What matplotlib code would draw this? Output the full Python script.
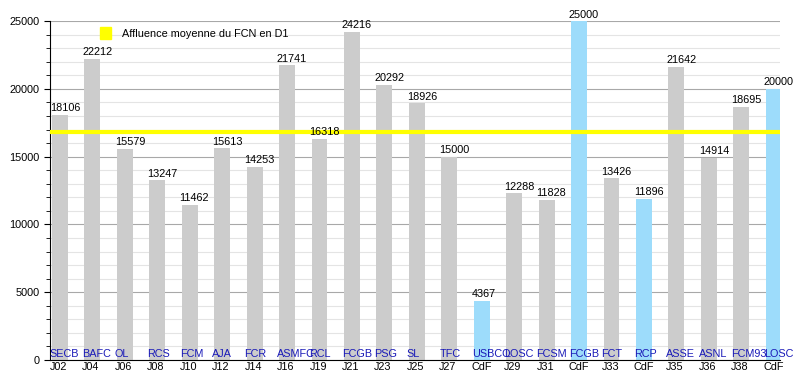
import matplotlib
matplotlib.use('Agg')
import matplotlib.pyplot as plt
from matplotlib.patches import Patch
from matplotlib.ticker import MultipleLocator

plt.rcParams['font.family'] = ['Liberation Sans', 'DejaVu Sans']

clubs = ['SECB', 'BAFC', 'OL', 'RCS', 'FCM', 'AJA', 'FCR', 'ASMFC', 'RCL', 'FCGB', 'PSG', 'SL',
         'TFC', 'USBCO', 'LOSC', 'FCSM', 'FCGB', 'FCT', 'RCP', 'ASSE', 'ASNL', 'FCM93', 'LOSC']
rounds = ['J02', 'J04', 'J06', 'J08', 'J10', 'J12', 'J14', 'J16', 'J19', 'J21', 'J23', 'J25',
          'J27', 'CdF', 'J29', 'J31', 'CdF', 'J33', 'CdF', 'J35', 'J36', 'J38', 'CdF']
crowd = [18106, 22212, 15579, 13247, 11462, 15613, 14253, 21741, 16318, 24216, 20292, 18926,
         15000, 4367, 12288, 11828, 25000, 13426, 11896, 21642, 14914, 18695, 20000]
moyenne_d1 = 16800

fig = plt.figure(figsize=(8, 3.8), dpi=100)
ax = fig.add_axes([0.0625, 0.0526, 0.9125, 0.892])

cols = ['#9ddcfb' if r == 'CdF' else '#cccccc' for r in rounds]
xs = list(range(len(crowd)))
ax.bar(xs, crowd, width=0.49, align='edge', color=cols, zorder=2)

ax.axhline(moyenne_d1, color='#ffff00', lw=3, zorder=3)

for x, v, c, r in zip(xs, crowd, clubs, rounds):
    ax.annotate(str(v), (x, v), xytext=(-1.5, 1), textcoords='offset points',
                ha='left', va='bottom', fontsize=7.8, zorder=4)
    ax.annotate(c, (x, 0), xytext=(-1.5, 0.5), textcoords='offset points',
                ha='left', va='bottom', fontsize=7.8, color='#1a1ab8', zorder=4)
    ax.annotate(r, (x, 0), xytext=(-1.5, -1.5), textcoords='offset points',
                ha='left', va='top', fontsize=7.8, annotation_clip=False)

ax.set_xlim(-0.06, 22.44)
ax.set_ylim(0, 25000)
ax.yaxis.set_major_locator(MultipleLocator(5000))
ax.yaxis.set_minor_locator(MultipleLocator(1000))
ax.grid(which='major', axis='y', color='#a8a8a8', lw=0.8, zorder=0)
ax.grid(which='minor', axis='y', color='#e4e4e4', lw=0.8, zorder=0)
ax.set_xticks([])
ax.tick_params(axis='y', which='major', length=4, labelsize=7.8, direction='out')
ax.tick_params(axis='y', which='minor', length=3, direction='out')
for s in ['top', 'right']:
    ax.spines[s].set_visible(False)

ax.legend(handles=[Patch(color='#ffff00', label='Affluence moyenne du FCN en D1')],
          loc='upper left', bbox_to_anchor=(0.055, 1.01), frameon=False, fontsize=7.8,
          handlelength=1.0, handleheight=1.3, handletextpad=1.0)

fig.savefig('out.png', dpi=100)
